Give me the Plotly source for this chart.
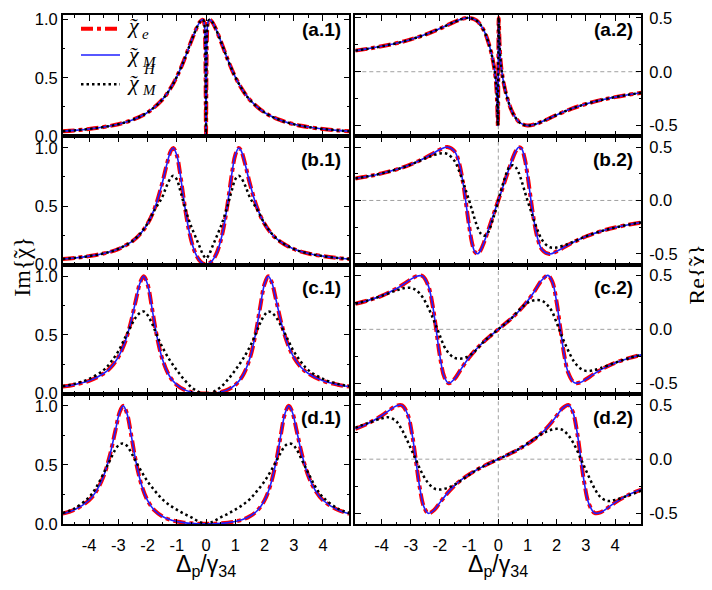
import plotly.graph_objects as go
from plotly.subplots import make_subplots

# detuning grids (Delta_p / gamma_34), one per row
x_a = [-4.9, -4.5, -4.0, -3.5, -3.0, -2.5, -2.0, -1.5, -1.25, -1.0, -0.75, -0.5, -0.3, -0.2, -0.12, -0.08,
       -0.05, -0.03, -0.02, -0.014, -0.01, -0.005, 0.0, 0.005, 0.01, 0.014, 0.02, 0.03, 0.05, 0.08, 0.12,
       0.2, 0.3, 0.5, 0.75, 1.0, 1.25, 1.5, 2.0, 2.5, 3.0, 3.5, 4.0, 4.5, 4.9]
x_b = [-4.9, -4.5, -4.0, -3.5, -3.0, -2.5, -2.25, -2.0, -1.75, -1.5, -1.35, -1.2, -1.12, -1.0, -0.9, -0.8,
       -0.7, -0.6, -0.5, -0.4, -0.3, -0.2, -0.1, 0.0, 0.1, 0.2, 0.3, 0.4, 0.5, 0.6, 0.7, 0.8, 0.9, 1.0,
       1.12, 1.2, 1.35, 1.5, 1.75, 2.0, 2.25, 2.5, 3.0, 3.5, 4.0, 4.5, 4.9]
x_c = [-4.9, -4.5, -4.0, -3.5, -3.25, -3.0, -2.8, -2.6, -2.4, -2.25, -2.13, -2.0, -1.85, -1.7, -1.5, -1.25,
       -1.0, -0.75, -0.5, -0.25, 0.0, 0.25, 0.5, 0.75, 1.0, 1.25, 1.5, 1.7, 1.85, 2.0, 2.13, 2.25, 2.4,
       2.6, 2.8, 3.0, 3.25, 3.5, 4.0, 4.5, 4.9]
x_d = [-4.9, -4.5, -4.0, -3.75, -3.5, -3.3, -3.1, -2.95, -2.83, -2.7, -2.55, -2.4, -2.2, -2.0, -1.75, -1.5,
       -1.25, -1.0, -0.75, -0.5, -0.25, 0.0, 0.25, 0.5, 0.75, 1.0, 1.25, 1.5, 1.75, 2.0, 2.2, 2.4, 2.55,
       2.7, 2.83, 2.95, 3.1, 3.3, 3.5, 3.75, 4.0, 4.5, 4.9]

# Im{chi}
im_e_a = [0.040, 0.047, 0.059, 0.076, 0.100, 0.139, 0.201, 0.310, 0.395, 0.507, 0.652, 0.818, 0.940, 0.984,
          1.0, 0.990, 0.946, 0.832, 0.671, 0.493, 0.328, 0.108, 0.0, 0.108, 0.328, 0.493, 0.671, 0.832,
          0.946, 0.990, 1.0, 0.984, 0.940, 0.818, 0.652, 0.507, 0.395, 0.310, 0.201, 0.139, 0.100, 0.076,
          0.059, 0.047, 0.040]
im_M_a = im_e_a
im_H_a = im_e_a

im_e_b = [0.044, 0.053, 0.069, 0.092, 0.130, 0.200, 0.259, 0.347, 0.484, 0.694, 0.849, 0.977, 1.0, 0.939,
          0.804, 0.629, 0.456, 0.310, 0.199, 0.118, 0.062, 0.026, 0.006, 0.0, 0.006, 0.026, 0.062, 0.118,
          0.199, 0.310, 0.456, 0.629, 0.804, 0.939, 1.0, 0.977, 0.849, 0.694, 0.484, 0.347, 0.259, 0.200,
          0.130, 0.092, 0.069, 0.053, 0.044]
im_M_b = im_e_b
im_H_b = [0.044, 0.053, 0.069, 0.092, 0.131, 0.202, 0.262, 0.35, 0.47, 0.575, 0.67, 0.745, 0.76, 0.73,
          0.65, 0.56, 0.47, 0.39, 0.32, 0.26, 0.20, 0.14, 0.08, 0.05, 0.08, 0.14, 0.20, 0.26, 0.32, 0.39,
          0.47, 0.56, 0.65, 0.73, 0.76, 0.745, 0.67, 0.575, 0.47, 0.35, 0.262, 0.202, 0.131, 0.092, 0.069,
          0.053, 0.044]

im_e_c = [0.060, 0.076, 0.109, 0.171, 0.225, 0.311, 0.418, 0.578, 0.794, 0.948, 1.0, 0.933, 0.734, 0.516,
          0.301, 0.150, 0.074, 0.034, 0.013, 0.003, 0.0, 0.003, 0.013, 0.034, 0.074, 0.150, 0.301, 0.516,
          0.734, 0.933, 1.0, 0.948, 0.794, 0.578, 0.418, 0.311, 0.225, 0.171, 0.109, 0.076, 0.060]
im_M_c = im_e_c
im_H_c = [0.064, 0.083, 0.125, 0.20, 0.27, 0.36, 0.46, 0.56, 0.65, 0.69, 0.70, 0.67, 0.60, 0.51, 0.40,
          0.29, 0.20, 0.12, 0.055, 0.015, 0.0, 0.015, 0.055, 0.12, 0.20, 0.29, 0.40, 0.51, 0.60, 0.67,
          0.70, 0.69, 0.65, 0.56, 0.46, 0.36, 0.27, 0.20, 0.125, 0.083, 0.064]

im_e_d = [0.086, 0.119, 0.200, 0.277, 0.405, 0.568, 0.789, 0.948, 1.0, 0.934, 0.741, 0.532, 0.325, 0.199,
          0.111, 0.064, 0.036, 0.020, 0.010, 0.004, 0.001, 0.0, 0.001, 0.004, 0.010, 0.020, 0.036, 0.064,
          0.111, 0.199, 0.325, 0.532, 0.741, 0.934, 1.0, 0.948, 0.789, 0.568, 0.405, 0.277, 0.200, 0.119,
          0.086]
im_M_d = im_e_d
im_H_d = [0.092, 0.13, 0.225, 0.31, 0.43, 0.53, 0.63, 0.675, 0.68, 0.66, 0.60, 0.53, 0.44, 0.36, 0.28,
          0.21, 0.16, 0.12, 0.085, 0.055, 0.02, 0.0, 0.02, 0.055, 0.085, 0.12, 0.16, 0.21, 0.28, 0.36, 0.44,
          0.53, 0.60, 0.66, 0.68, 0.675, 0.63, 0.53, 0.43, 0.31, 0.225, 0.13, 0.092]

# Re{chi}
re_e_a = [0.196, 0.212, 0.236, 0.264, 0.300, 0.345, 0.401, 0.463, 0.489, 0.500, 0.476, 0.386, 0.237, 0.126,
          0.0, -0.099, -0.225, -0.374, -0.470, -0.500, -0.470, -0.310, 0.0, 0.310, 0.470, 0.500, 0.470,
          0.374, 0.225, 0.099, 0.0, -0.126, -0.237, -0.386, -0.476, -0.500, -0.489, -0.463, -0.401, -0.345,
          -0.300, -0.264, -0.236, -0.212, -0.196]
re_M_a = re_e_a
re_H_a = re_e_a

re_e_b = [0.206, 0.224, 0.253, 0.289, 0.337, 0.400, 0.438, 0.476, 0.500, 0.461, 0.358, 0.151, 0.0, -0.239,
          -0.397, -0.483, -0.498, -0.463, -0.399, -0.322, -0.242, -0.160, -0.080, 0.0, 0.080, 0.160, 0.242,
          0.322, 0.399, 0.463, 0.498, 0.483, 0.397, 0.239, 0.0, -0.151, -0.358, -0.461, -0.500, -0.476,
          -0.438, -0.400, -0.337, -0.289, -0.253, -0.224, -0.206]
re_M_b = re_e_b
re_H_b = [0.206, 0.224, 0.253, 0.289, 0.335, 0.395, 0.42, 0.44, 0.435, 0.37, 0.28, 0.17, 0.10, 0.0, -0.09,
          -0.18, -0.26, -0.31, -0.33, -0.32, -0.27, -0.19, -0.10, 0.0, 0.10, 0.19, 0.27, 0.32, 0.33, 0.31,
          0.26, 0.18, 0.09, 0.0, -0.10, -0.17, -0.28, -0.37, -0.435, -0.44, -0.42, -0.395, -0.335, -0.289,
          -0.253, -0.224, -0.206]

re_e_c = [0.237, 0.265, 0.311, 0.376, 0.418, 0.463, 0.493, 0.494, 0.405, 0.222, 0.0, -0.250, -0.442, -0.500,
          -0.459, -0.357, -0.262, -0.182, -0.115, -0.056, 0.0, 0.056, 0.115, 0.182, 0.262, 0.357, 0.459,
          0.500, 0.442, 0.250, 0.0, -0.222, -0.405, -0.494, -0.493, -0.463, -0.418, -0.376, -0.311, -0.265,
          -0.237]
re_M_c = re_e_c
re_H_c = [0.237, 0.265, 0.31, 0.36, 0.38, 0.385, 0.36, 0.30, 0.20, 0.11, 0.03, -0.06, -0.16, -0.22, -0.265,
          -0.27, -0.245, -0.19, -0.115, -0.055, 0.0, 0.055, 0.115, 0.19, 0.245, 0.27, 0.265, 0.22, 0.16,
          0.06, -0.03, -0.11, -0.20, -0.30, -0.36, -0.385, -0.38, -0.36, -0.31, -0.265, -0.237]

re_e_d = [0.280, 0.324, 0.400, 0.448, 0.491, 0.496, 0.408, 0.223, 0.0, -0.248, -0.438, -0.499, -0.469,
          -0.400, -0.315, -0.244, -0.187, -0.140, -0.100, -0.064, -0.031, 0.0, 0.031, 0.064, 0.100, 0.140,
          0.187, 0.244, 0.315, 0.400, 0.469, 0.499, 0.438, 0.248, 0.0, -0.223, -0.408, -0.496, -0.491,
          -0.448, -0.400, -0.324, -0.280]
re_M_d = re_e_d
re_H_d = [0.29, 0.33, 0.375, 0.385, 0.35, 0.27, 0.16, 0.07, 0.0, -0.08, -0.16, -0.22, -0.27, -0.28, -0.265,
          -0.235, -0.19, -0.145, -0.10, -0.065, -0.032, 0.0, 0.032, 0.065, 0.10, 0.145, 0.19, 0.235, 0.265,
          0.28, 0.27, 0.22, 0.16, 0.08, 0.0, -0.07, -0.16, -0.27, -0.35, -0.385, -0.375, -0.33, -0.29]

panel_tags = ["a", "b", "c", "d"]
x_ticks = [-4, -3, -2, -1, 0, 1, 2, 3, 4]

rows = [
    (x_a, im_e_a, im_M_a, im_H_a, re_e_a, re_M_a, re_H_a),
    (x_b, im_e_b, im_M_b, im_H_b, re_e_b, re_M_b, re_H_b),
    (x_c, im_e_c, im_M_c, im_H_c, re_e_c, re_M_c, re_H_c),
    (x_d, im_e_d, im_M_d, im_H_d, re_e_d, re_M_d, re_H_d),
]

RED = dict(color="#ff0000", width=4, dash="dashdot")
BLUE = dict(color="#1f1fff", width=1.6)
DOTS = dict(color="black", width=2.5, dash="2.5px,3px")

W, H = 712, 590
OFF = 8  # the page body margin shifts the figure 8px right and down


def fx(xp):
    return (xp - OFF) / W


def fy(yp):
    return 1 - (yp - OFF) / H


# panel edges in window pixels
x_edges = [(62.7, 349.3), (355.3, 641.3)]
y_edges = [(9.0, 133.3), (133.3, 264.7), (264.7, 397.3), (397.3, 530.7)]
im_ranges = [[-0.004, 1.04], [-0.004, 1.1], [-0.004, 1.1], [-0.004, 1.1]]
re_ranges = [[-0.6, 0.527], [-0.6, 0.6], [-0.6, 0.6], [-0.6, 0.6]]
label_drop = [15, 23, 23, 23]

fig = make_subplots(rows=4, cols=2, horizontal_spacing=0.01, vertical_spacing=0)


def add_curves(x, e, m, h, r, c):
    fig.add_trace(go.Scatter(x=x, y=e, mode="lines", name="chi_e", showlegend=False,
                             line=dict(RED, shape="spline")), row=r, col=c)
    fig.add_trace(go.Scatter(x=x, y=m, mode="lines", name="chi_M", showlegend=False,
                             line=dict(BLUE, shape="spline")), row=r, col=c)
    fig.add_trace(go.Scatter(x=x, y=h, mode="lines", name="chi_M^H", showlegend=False,
                             line=dict(DOTS, shape="spline")), row=r, col=c)


for k, (x, ie, im, ih, re_, rm, rh) in enumerate(rows):
    add_curves(x, ie, im, ih, k + 1, 1)
    add_curves(x, re_, rm, rh, k + 1, 2)

tick_font = dict(family="Liberation Sans, Arial", size=16.5, color="black")
shapes = []
annotations = []
for k in range(4):
    for c in range(2):
        i = k * 2 + c + 1
        sx = "" if i == 1 else str(i)
        ax = dict(
            domain=[fx(x_edges[c][0]), fx(x_edges[c][1])], range=[-4.9, 4.9], tickmode="array",
            tickvals=x_ticks, ticktext=[str(v) for v in x_ticks], ticks="inside", ticklen=6, tickwidth=1.3,
            minor=dict(ticks="inside", ticklen=3, tickwidth=1.2, dtick=0.5, tick0=0, tickcolor="black"),
            showline=True, linecolor="black", linewidth=1.5, mirror="allticks",
            showgrid=False, zeroline=False, tickcolor="black",
            showticklabels=(k == 3), tickfont=tick_font, ticklabelstandoff=5,
        )
        dom = [fy(y_edges[k][1]), fy(y_edges[k][0])]
        if c == 0:
            ay = dict(range=im_ranges[k], tickvals=[0, 0.5, 1.0], ticktext=["0.0", "0.5", "1.0"])
        else:
            ay = dict(range=re_ranges[k], tickvals=[-0.5, 0, 0.5], ticktext=["-0.5", "0.0", "0.5"],
                      side="right", ticklabelstandoff=3)
        ay.update(
            domain=dom, tickmode="array", ticks="inside", ticklen=6, tickwidth=1.3,
            minor=dict(ticks="inside", ticklen=3, tickwidth=1.2, dtick=0.25, tick0=0, tickcolor="black"),
            showline=True, linecolor="black", linewidth=1.5, mirror="allticks",
            showgrid=False, zeroline=False, tickcolor="black", tickfont=tick_font,
            ticklabeloverflow="allow",
        )
        fig.update_layout({"xaxis" + sx: ax, "yaxis" + sx: ay})

        annotations.append(dict(
            text="<b>(%s.%d)</b>" % (panel_tags[k], c + 1), xref="x%s domain" % sx, yref="y%s domain" % sx,
            x=1, y=1, xanchor="right", yanchor="middle", xshift=-6, yshift=-label_drop[k], showarrow=False,
            font=dict(family="Liberation Sans, Arial", size=19, color="black")))

        if c == 1:
            dash_line = dict(color="#a0a0a0", width=1, dash="4px,3px")
            shapes.append(dict(type="line", xref="x%s domain" % sx, yref="y" + sx, x0=0, x1=1, y0=0, y1=0,
                               line=dash_line, layer="below"))
            shapes.append(dict(type="line", xref="x" + sx, yref="y%s domain" % sx, x0=0, x1=0, y0=0, y1=1,
                               line=dash_line, layer="below"))


def text_at(txt, xp, yp, size, family, xanchor="center", angle=0, italic=False):
    annotations.append(dict(text=("<i>%s</i>" % txt) if italic else txt, xref="paper", yref="paper",
                            x=fx(xp), y=fy(yp), xanchor=xanchor, yanchor="middle", textangle=angle,
                            showarrow=False, borderpad=0,
                            font=dict(family=family, size=size, color="black")))


SANS = "Liberation Sans, Arial"
SERIF = "Liberation Serif, Times New Roman"

# axis titles
for c in range(2):
    xc = (x_edges[c][0] + x_edges[c][1]) / 2
    text_at("Δ<sub>p</sub>/γ<sub>34</sub>", xc, 573, 23, SANS)

text_at("Im{χ}", 22, 267, 24, SERIF, angle=-90)
text_at("˜", 22, 254, 24, SERIF, angle=-90)
text_at("Re{χ}", 697, 275, 24, SERIF, angle=-90)
text_at("˜", 697, 262, 24, SERIF, angle=-90)

# legend drawn inside panel (a.1)
leg_lines = [(23, RED), (50, BLUE), (80, DOTS)]
for yl, st in leg_lines:
    shapes.append(dict(type="line", xref="paper", yref="paper", x0=fx(81), x1=fx(120), y0=fy(yl), y1=fy(yl),
                       line=st))

leg_rows = [(20, "e", None), (49, "M", None), (78, "M", "H")]
for yc, sub, sup in leg_rows:
    text_at("χ", 126, yc, 22, SERIF, xanchor="left", italic=True)
    text_at("˜", 133, yc, 22, SERIF, italic=True)
    text_at(sub, 141, yc + 8, 15, SERIF, xanchor="left", italic=True)
    if sup:
        text_at(sup, 142, yc - 14, 15, SERIF, xanchor="left", italic=True)

fig.update_layout(
    width=W, height=H,
    margin=dict(l=0, r=0, t=0, b=0),
    paper_bgcolor="white", plot_bgcolor="white",
    shapes=shapes, annotations=annotations,
    showlegend=False,
)

fig.write_html("out.html")
